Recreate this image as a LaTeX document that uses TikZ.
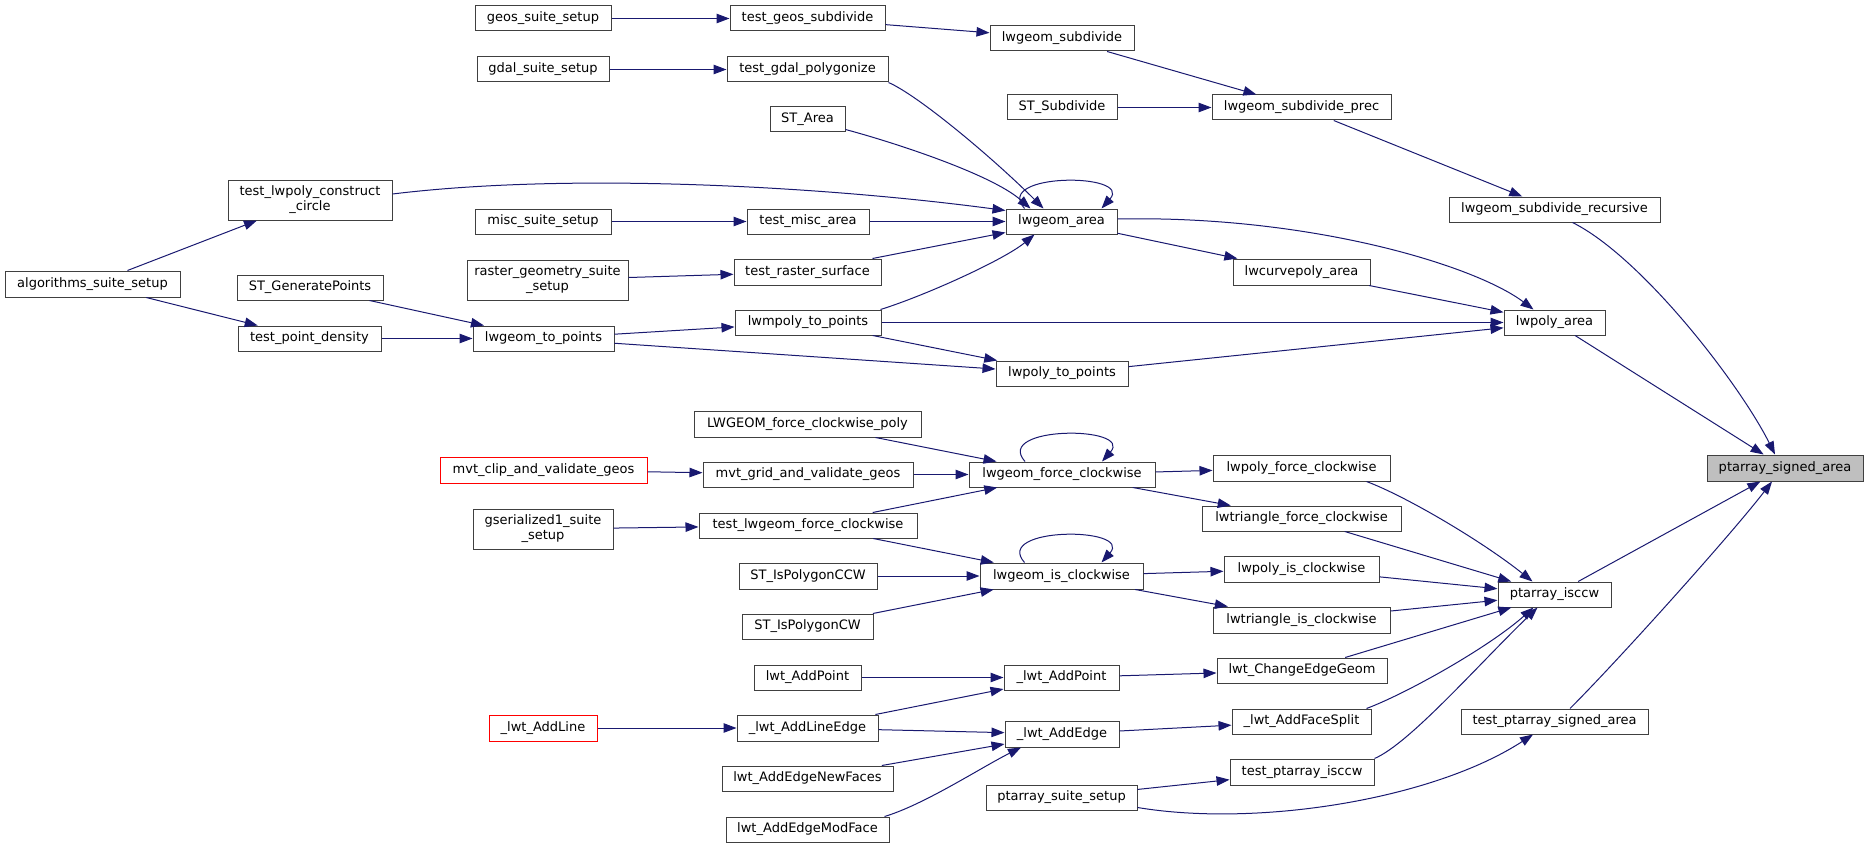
\documentclass[tikz,border=0pt]{standalone}
\usepackage{fontspec}
\setmainfont{DejaVu Sans}
\usetikzlibrary{arrows.meta}
\definecolor{edgeblue}{HTML}{191970}
\definecolor{boxline}{HTML}{404040}
\definecolor{rootfill}{HTML}{BFBFBF}

\begin{document}
\begin{tikzpicture}[x=1pt, y=-1pt,
    fn/.style={draw=boxline, fill=white, line width=1pt, inner sep=0pt, align=center, font=\fontsize{13}{15}\selectfont},
    fnred/.style={fn, draw=red},
    fnroot/.style={fn, fill=rootfill},
    call/.style={draw=edgeblue, line width=1pt, -{Triangle[length=13pt,width=9.5pt]}}]
\useasboundingbox (0,0) rectangle (1868,848);
\foreach \nm/\st/\xa/\ya/\xb/\yb/\txt in {
    geosSetup/fn/475/6/611/31/{geos\_suite\_setup},
    testGeosSub/fn/730/6/885/31/{test\_geos\_subdivide},
    gdalSetup/fn/477/57/609/82/{gdal\_suite\_setup},
    testGdalPoly/fn/727/57/888/82/{test\_gdal\_polygonize},
    stArea/fn/770/107/845/132/{ST\_Area},
    lwSubdivide/fn/990/26/1134/51/{lwgeom\_subdivide},
    stSubdivide/fn/1007/95/1117/120/{ST\_Subdivide},
    lwSubdividePrec/fn/1212/95/1391/120/{lwgeom\_subdivide\_prec},
    lwSubdivideRec/fn/1449/197/1660/222/{lwgeom\_subdivide\_recursive},
    testConstructCircle/fn/228/180/392/220/{test\_lwpoly\_construct\\\_circle},
    algoSetup/fn/5/271/180/297/{algorithms\_suite\_setup},
    stGenPoints/fn/237/275/383/300/{ST\_GeneratePoints},
    miscSetup/fn/475/209/611/234/{misc\_suite\_setup},
    testMiscArea/fn/747/209/869/234/{test\_misc\_area},
    lwgeomArea/fn/1006/209/1117/234/{lwgeom\_area},
    rasterSetup/fn/467/260/628/300/{raster\_geometry\_suite\\\_setup},
    testRaster/fn/734/259/881/285/{test\_raster\_surface},
    lwcurvepolyArea/fn/1233/259/1370/285/{lwcurvepoly\_area},
    testPointDensity/fn/238/326/381/351/{test\_point\_density},
    lwgeomToPoints/fn/473/326/614/351/{lwgeom\_to\_points},
    lwmpolyToPoints/fn/735/310/881/335/{lwmpoly\_to\_points},
    lwpolyToPoints/fn/996/361/1128/386/{lwpoly\_to\_points},
    lwpolyArea/fn/1504/310/1605/335/{lwpoly\_area},
    ptarraySignedArea/fnroot/1707/455/1863/481/{ptarray\_signed\_area},
    lwgeomFcPoly/fn/694/411/921/437/{LWGEOM\_force\_clockwise\_poly},
    mvtClip/fnred/440/457/647/483/{mvt\_clip\_and\_validate\_geos},
    mvtGrid/fn/703/462/913/487/{mvt\_grid\_and\_validate\_geos},
    lwgeomForceCw/fn/969/462/1155/487/{lwgeom\_force\_clockwise},
    lwpolyForceCw/fn/1213/455/1390/481/{lwpoly\_force\_clockwise},
    lwtriForceCw/fn/1202/506/1401/531/{lwtriangle\_force\_clockwise},
    gserSetup/fn/473/509/613/549/{gserialized1\_suite\\\_setup},
    testLwgeomFcw/fn/699/513/917/538/{test\_lwgeom\_force\_clockwise},
    stIsCCW/fn/739/563/877/589/{ST\_IsPolygonCCW},
    stIsCW/fn/742/614/873/639/{ST\_IsPolygonCW},
    lwgeomIsCw/fn/980/563/1143/589/{lwgeom\_is\_clockwise},
    lwpolyIsCw/fn/1224/556/1379/582/{lwpoly\_is\_clockwise},
    lwtriIsCw/fn/1213/607/1390/633/{lwtriangle\_is\_clockwise},
    ptarrayIsccw/fn/1498/582/1611/607/{ptarray\_isccw},
    lwtAddPoint/fn/754/665/861/690/{lwt\_AddPoint},
    lwtAddPointInt/fn/1004/665/1119/690/{\_lwt\_AddPoint},
    lwtChangeEdgeGeom/fn/1217/658/1387/683/{lwt\_ChangeEdgeGeom},
    lwtAddLine/fnred/489/715/597/741/{\_lwt\_AddLine},
    lwtAddLineEdge/fn/737/715/878/741/{\_lwt\_AddLineEdge},
    lwtAddEdgeInt/fn/1005/721/1119/747/{\_lwt\_AddEdge},
    lwtAddFaceSplit/fn/1232/709/1371/734/{\_lwt\_AddFaceSplit},
    lwtAddEdgeNewFaces/fn/722/766/893/791/{lwt\_AddEdgeNewFaces},
    lwtAddEdgeModFace/fn/726/817/889/842/{lwt\_AddEdgeModFace},
    testPtarrayIsccw/fn/1230/759/1374/785/{test\_ptarray\_isccw},
    ptarraySuiteSetup/fn/986/785/1137/810/{ptarray\_suite\_setup},
    testPtarraySignedArea/fn/1461/709/1648/734/{test\_ptarray\_signed\_area}} {
  \pgfmathsetmacro\w{\xb-\xa}
  \pgfmathsetmacro\h{\yb-\ya}
  \node[\st, minimum width=\w pt, minimum height=\h pt] (\nm) at ({(\xa+\xb)/2},{(\ya+\yb)/2}) {\txt};
}
\foreach \a/\b in {geosSetup/testGeosSub, testGeosSub/lwSubdivide, gdalSetup/testGdalPoly,
    lwSubdivide/lwSubdividePrec, stSubdivide/lwSubdividePrec, lwSubdividePrec/lwSubdivideRec,
    algoSetup/testConstructCircle, algoSetup/testPointDensity, miscSetup/testMiscArea,
    testMiscArea/lwgeomArea, rasterSetup/testRaster, lwgeomArea/lwcurvepolyArea,
    lwcurvepolyArea/lwpolyArea, stGenPoints/lwgeomToPoints, testPointDensity/lwgeomToPoints,
    lwgeomToPoints/lwmpolyToPoints, lwgeomToPoints/lwpolyToPoints, lwmpolyToPoints/lwpolyToPoints,
    lwmpolyToPoints/lwpolyArea, lwpolyToPoints/lwpolyArea, lwpolyArea/ptarraySignedArea,
    ptarrayIsccw/ptarraySignedArea, lwgeomFcPoly/lwgeomForceCw, mvtClip/mvtGrid,
    mvtGrid/lwgeomForceCw, gserSetup/testLwgeomFcw, testLwgeomFcw/lwgeomForceCw,
    testLwgeomFcw/lwgeomIsCw, lwgeomForceCw/lwpolyForceCw, lwgeomForceCw/lwtriForceCw,
    lwtriForceCw/ptarrayIsccw, stIsCCW/lwgeomIsCw, stIsCW/lwgeomIsCw, lwgeomIsCw/lwpolyIsCw,
    lwgeomIsCw/lwtriIsCw, lwpolyIsCw/ptarrayIsccw, lwtriIsCw/ptarrayIsccw,
    lwtAddPoint/lwtAddPointInt, lwtAddLine/lwtAddLineEdge, lwtAddLineEdge/lwtAddPointInt,
    lwtAddLineEdge/lwtAddEdgeInt, lwtAddEdgeNewFaces/lwtAddEdgeInt, lwtAddPointInt/lwtChangeEdgeGeom,
    lwtAddEdgeInt/lwtAddFaceSplit, lwtChangeEdgeGeom/ptarrayIsccw, ptarraySuiteSetup/testPtarrayIsccw} {
  \draw[call] (\a) -- (\b);
}
% bent calls
\draw[call] (testGdalPoly.south east) .. controls +(30,13) and +(-50,-50) .. ([xshift=-18pt]lwgeomArea.north);
\draw[call] ([yshift=3pt]stArea.south east) .. controls +(45,12) and +(-40,-35) .. ([xshift=-31pt]lwgeomArea.north);
\draw[call] ([yshift=6pt]testConstructCircle.east) .. controls +(180,-22) and +(-180,-24) .. ([yshift=11pt]lwgeomArea.west);
\draw[call] ([xshift=-9pt]testRaster.north east) -- ([yshift=2pt]lwgeomArea.south west);
\draw[call] ([xshift=-1pt]lwmpolyToPoints.north east) .. controls +(45,-14) and +(-30,25) .. ([xshift=-27pt]lwgeomArea.south);
\draw[call] ([yshift=2.5pt]lwgeomArea.east) .. controls +(190,-4) and +(-60,-45) .. ([xshift=-21pt]lwpolyArea.north);
\draw[call] ([xshift=18pt]lwSubdivideRec.south) .. controls +(70,35) and +(-35,-70) .. ([xshift=-10pt]ptarraySignedArea.north);
\draw[call] ([xshift=15.5pt]testPtarraySignedArea.north) .. controls +(50,-50) and +(-40,52) .. ([xshift=-13pt]ptarraySignedArea.south);
\draw[call] ([yshift=3pt]ptarraySuiteSetup.south east) .. controls +(120,20) and +(-100,65) .. ([xshift=-21.5pt]testPtarraySignedArea.south);
\draw[call] (testPtarrayIsccw.north east) .. controls +(35,-15) and +(-60,58) .. ([xshift=-17pt]ptarrayIsccw.south);
\draw[call] ([xshift=-5pt]lwtAddEdgeModFace.north east) .. controls +(40,-12) and +(-40,20) .. ([xshift=-41pt]lwtAddEdgeInt.south);
\draw[call] ([xshift=-5pt]lwtAddFaceSplit.north east) .. controls +(40,-15) and +(-45,40) .. ([xshift=-21pt]ptarrayIsccw.south);
\draw[call] ([xshift=-24pt]lwpolyForceCw.south east) .. controls +(40,15) and +(-50,-40) .. ([xshift=-22pt]ptarrayIsccw.north);
% recursive calls
\foreach \nm in {lwgeomArea, lwgeomForceCw, lwgeomIsCw} {
  \draw[call] ([xshift=-37pt]\nm.north) .. controls +(-32,-36) and +(32,-36) .. ([xshift=40pt]\nm.north);
}
\end{tikzpicture}
\end{document}
